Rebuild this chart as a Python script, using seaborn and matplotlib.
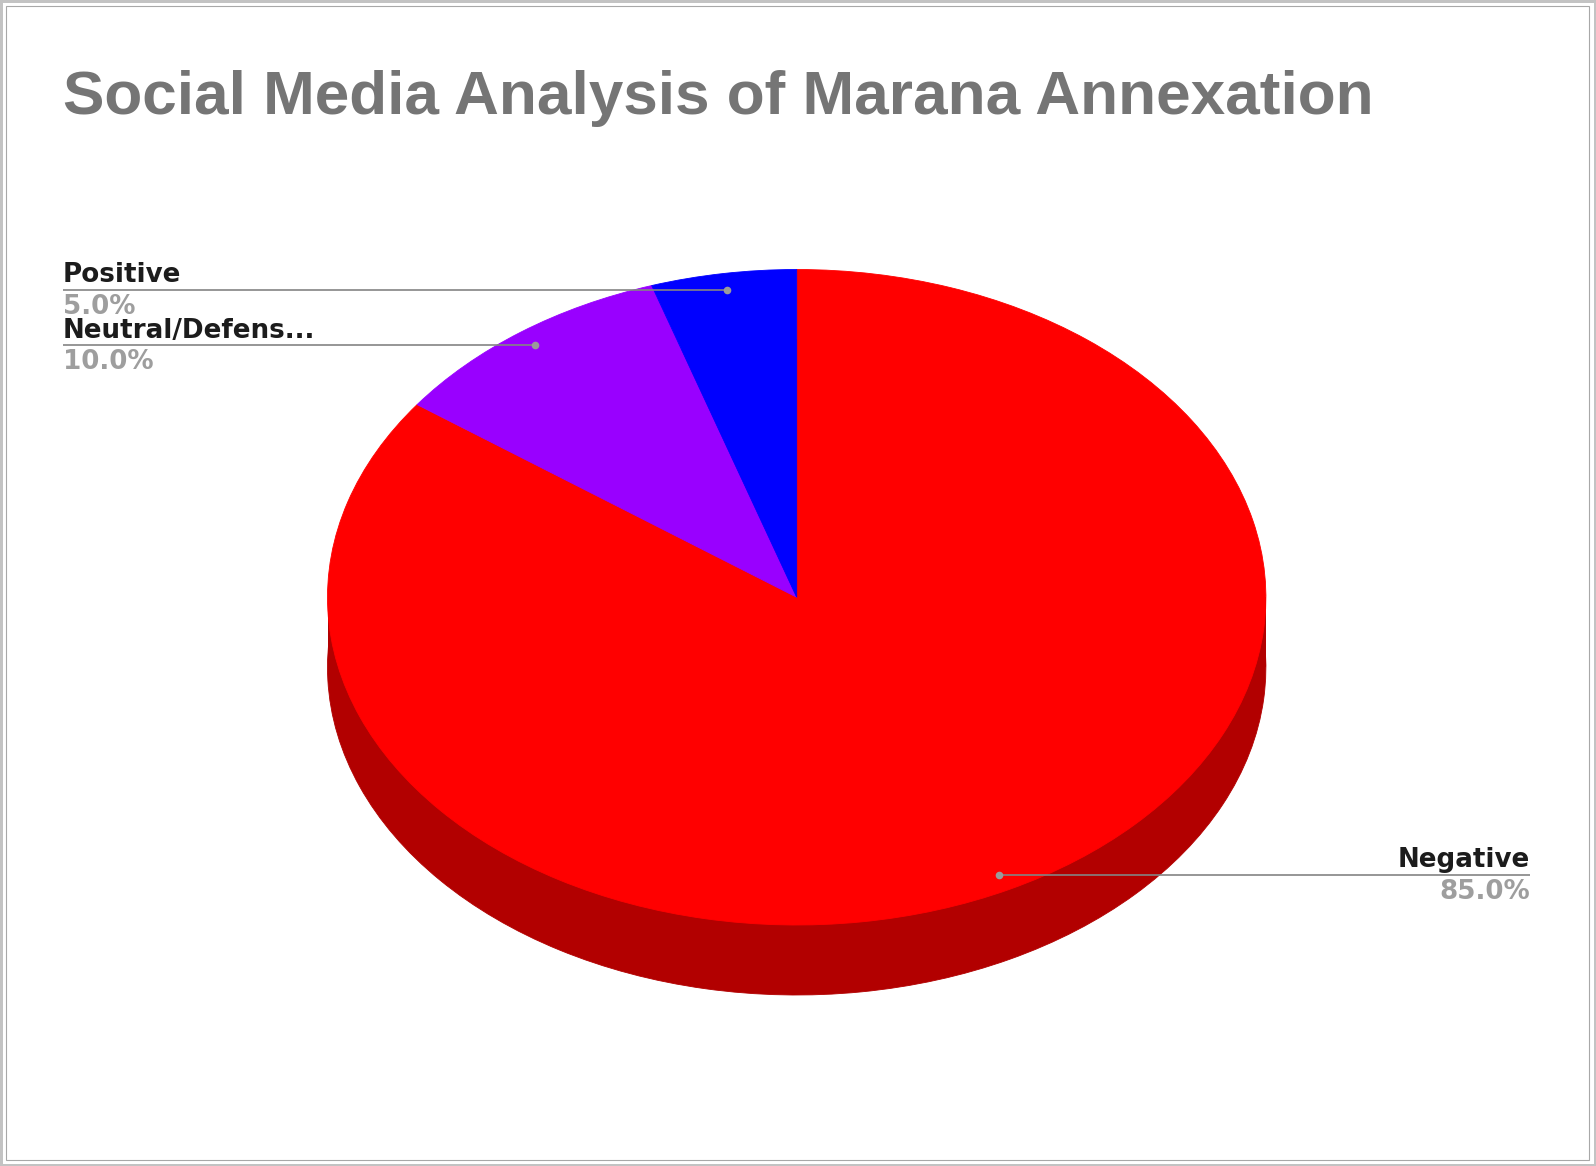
import numpy as np
import matplotlib
matplotlib.use("Agg")
import matplotlib.pyplot as plt
from matplotlib.patches import Rectangle
import seaborn as sns

# ---- data ----
categories = ["Negative", "Neutral/Defens...", "Positive"]
shares = [85.0, 10.0, 5.0]
pct_labels = ["85.0%", "10.0%", "5.0%"]
top_colors = ["#ff0000", "#9900ff", "#0000ff"]
side_colors = ["#b20000", "#6b00b3", "#0000b3"]
title = "Social Media Analysis of Marana Annexation"

sns.set_theme(style="white")
plt.rcParams['font.family'] = ['Liberation Sans', 'DejaVu Sans']

W, H = 1596, 1166
fig = plt.figure(figsize=(W / 100, H / 100), dpi=100)
fig.patch.set_facecolor("white")

# ---- 3D-looking pie ----
cx, cy, rx, ry, depth = 796.7, 597.25, 469.2, 327.75, 70.0
d = depth / ry
ax = fig.add_axes([(cx - rx) / W, (H - (cy + ry + depth)) / H,
                   2 * rx / W, (2 * ry + depth) / H])
side_w, _ = ax.pie(shares, colors=side_colors, startangle=90, counterclock=False,
                   center=(0, -d))
ax.bar(0, d, width=2, bottom=-d, color=side_colors[0], linewidth=0)
wedges, _ = ax.pie(shares, colors=top_colors, startangle=90,
                   counterclock=False)
for w in list(side_w) + list(wedges):
    w.set_edgecolor(w.get_facecolor())
    w.set_linewidth(0.6)
ax.set_aspect("auto")
ax.set_xlim(-1, 1)
ax.set_ylim(-1 - d, 1)
ax.axis("off")

# ---- overlay in pixel coordinates ----
ov = fig.add_axes([0, 0, 1, 1])
ov.set_xlim(0, W)
ov.set_ylim(H, 0)
ov.axis("off")

ov.text(63, 114, title, fontsize=44.7, fontweight="bold", color="#757575",
        va="baseline", ha="left")

name_col = "#1c1c1c"
pct_col = "#9e9e9e"
line_col = "#848484"
fs = 18.8
lab_font = ['DejaVu Sans']
for w, name, pct in zip(wedges, categories, pct_labels):
    th = np.deg2rad((w.theta1 + w.theta2) / 2)
    pt = (0.95 * np.cos(th), 0.95 * np.sin(th))
    disp = ax.transData.transform(pt)
    px, py = ov.transData.inverted().transform(disp)
    if px < cx:
        x_end, ha = 63, "left"
    else:
        x_end, ha = 1530, "right"
    ov.plot([px, x_end], [py, py], color=line_col, lw=1.2, solid_capstyle="butt")
    ov.plot([px], [py], "o", color="#9a9a9a", ms=5.5, mec="none")
    ov.text(x_end, py - 7.5, name, fontsize=fs, fontweight="bold",
            family=lab_font, color=name_col, ha=ha, va="baseline")
    ov.text(x_end, py + 24, pct, fontsize=fs, fontweight="bold",
            family=lab_font, color=pct_col, ha=ha, va="baseline")

# ---- borders ----
ov.add_patch(Rectangle((0, 0), W, H, fill=False, edgecolor="#c3c3c3",
                       lw=3.6, clip_on=False))
ov.add_patch(Rectangle((5.5, 5.5), 1583, 1154, fill=False, edgecolor="#a8a8a8",
                       lw=0.8, clip_on=False))

fig.savefig("out.png", dpi=100, facecolor="white")
